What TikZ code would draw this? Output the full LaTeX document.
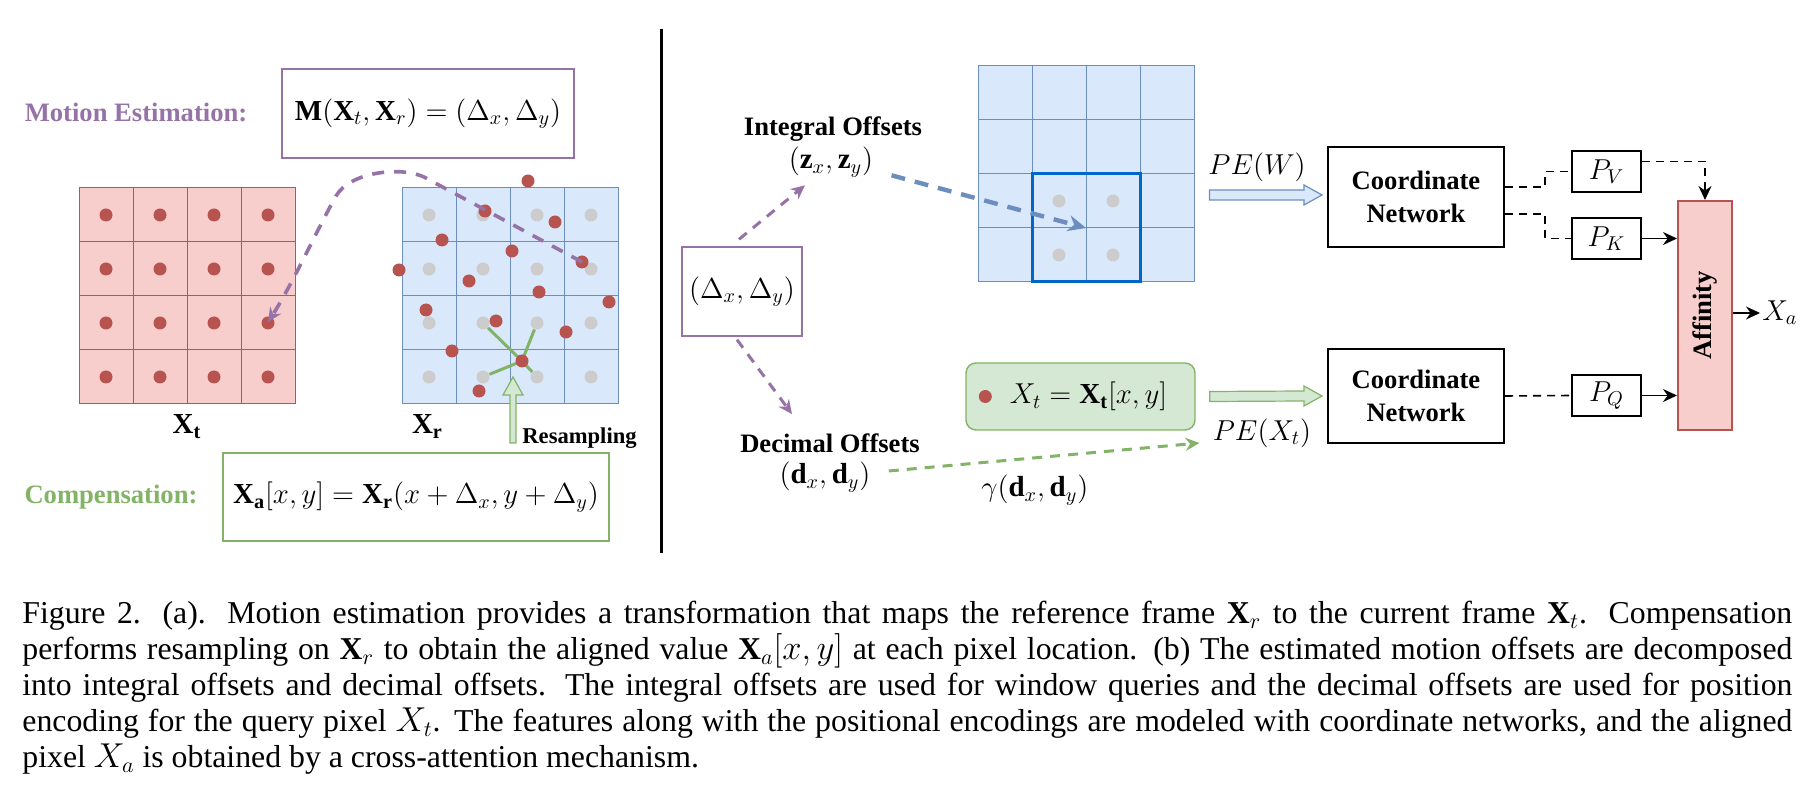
\documentclass[tikz,border=0pt]{standalone}
\usepackage{amsmath}
\usepackage{fontspec}
\setmainfont{Liberation Serif}
\usepackage{xcolor}
\usepackage{tikz}
\usetikzlibrary{arrows.meta,positioning,calc}

\definecolor{redfill}{HTML}{F8CECC}
\definecolor{redline}{HTML}{B85450}
\definecolor{bluefill}{HTML}{DAE8FC}
\definecolor{blueline}{HTML}{6C8EBF}
\definecolor{greenfill}{HTML}{D5E8D4}
\definecolor{greenline}{HTML}{82B366}
\definecolor{purpleline}{HTML}{9673A6}
\definecolor{winblue}{HTML}{0066CC}
\definecolor{dotgray}{HTML}{CCCCCC}

\begin{document}
\begin{tikzpicture}[x=0.5pt,y=-0.5pt,>={Stealth[length=7pt,width=6.5pt]},
  every node/.style={font=\fontsize{13.3}{16.5}\selectfont,align=center,inner sep=1pt},
  lbl/.style={font=\fontsize{13.3}{16.5}\selectfont\bfseries},
  mth/.style={font=\fontsize{14.5}{17}\selectfont},
  box/.style={draw,line width=1pt,inner sep=0pt},
  pbox/.style={draw=purpleline,line width=0.7pt,inner sep=0pt,minimum height=44.5pt},
  redcell/.style={draw=redline,fill=redfill,line width=0.5pt},
  bluecell/.style={draw=blueline,fill=bluefill,line width=0.5pt},
  reddot/.style={fill=redline},
  graydot/.style={fill=dotgray},
  pdash/.style={purpleline,line width=1.5pt,dash pattern=on 5pt off 4pt,->},
  bdash/.style={blueline,line width=2.2pt,dash pattern=on 7pt off 5pt,->,>={Stealth[length=9pt,width=8pt]}},
  gdash/.style={greenline,line width=1.5pt,dash pattern=on 5pt off 4pt,->},
  kdash/.style={line width=0.8pt,dash pattern=on 4pt off 3pt}]
\useasboundingbox (0,0) rectangle (1810,807);

\foreach \i in {0,...,3}
  \foreach \j in {0,...,3} {
    \draw[redcell] (79+54*\i,188+54*\j) rectangle ++(54,54);
    \fill[reddot] (106+54*\i,215+54*\j) circle (3.25pt);
    \draw[bluecell] (402+54*\i,188+54*\j) rectangle ++(54,54);
    \fill[graydot] (429+54*\i,215+54*\j) circle (3.25pt);
    \draw[bluecell] (978+54*\i,66+54*\j) rectangle ++(54,54);
  }
\node[minimum size=108pt,inner sep=0pt] (tgrid) at (187,296) {};
\node[minimum size=108pt,inner sep=0pt] (rgrid) at (510,296) {};
\node[minimum size=108pt,inner sep=0pt] (wgrid) at (1086,174) {};
\node[mth,below=4pt of tgrid] (xt) {$\mathbf{X_t}$};
\node[mth,below right=4pt and 4pt of rgrid.south west] (xr) {$\mathbf{X_r}$};

\coordinate (rs) at (522,361);
\foreach \a/\b in {483/323,537/323,483/377,537/377}
  \draw[greenline,line width=1.5pt,shorten >=3.5pt] (rs) -- (\a,\b);
\foreach \a/\b in {528/181,485/211,555/222,442/240,512/251,399/270,582/262,469/281,539/292,609/302,426/310,496/321,566/332,452/351,522/361,479/391}
  \fill[reddot] (\a,\b) circle (3.25pt);

\node[lbl,text=purpleline] (metxt) at (136,112) {Motion Estimation:};
\node[pbox,mth,minimum width=146pt] (mbox) at (428,113.5) {$\mathbf{M}(\mathbf{X}_t,\mathbf{X}_r)=(\Delta_x,\Delta_y)$};
\node[lbl,text=greenline] (ctxt) at (111,497) {Compensation:};
\node[draw=greenline,line width=0.7pt,inner sep=0pt,minimum width=193pt,minimum height=44pt,mth] (cbox) at (416,497) {$\mathbf{X_a}[x,y]=\mathbf{X_r}(x+\Delta_x,y+\Delta_y)$};

\coordinate (src) at (582,262);
\coordinate (dst) at (268,322);
\draw[purpleline,line width=1.8pt,dash pattern=on 6pt off 5pt,->] (src) -- (424,177) .. controls (400,166) and (350,172) .. (336,196) .. controls (318,228) and (292,285) .. (dst);

\coordinate (rtip) at (513,377);
\coordinate (rbase) at (513,443);
\draw[greenline,fill=greenfill,line width=0.6pt] ($(rbase)+(-3,0)$) -- ($(rtip)+(-3,18)$) -- ($(rtip)+(-10,18)$) -- (rtip) -- ($(rtip)+(10,18)$) -- ($(rtip)+(3,18)$) -- ($(rbase)+(3,0)$) -- cycle;
\node[lbl,font=\fontsize{11.3}{13}\selectfont\bfseries,anchor=west] (resamp) at (520,438) {Resampling};

\draw[line width=1.3pt] (661.5,29) -- (661.5,553);

\node[pbox,mth,minimum width=60pt] (dbox) at (742,291.5) {$(\Delta_x,\Delta_y)$};
\node[lbl] (intoff) at (833,129) {Integral Offsets};
\node[mth] (zxy) at (831,162) {$(\mathbf{z}_x,\mathbf{z}_y)$};
\node[lbl] (decoff) at (830,443) {Decimal Offsets};
\node[mth] (dxy) at (825,477) {$(\mathbf{d}_x,\mathbf{d}_y)$};
\node[draw=winblue,line width=1.5pt,minimum size=54pt,inner sep=0pt] (win) at (1086,228) {};
\foreach \a/\b in {1059/201,1113/201,1059/255,1113/255}
  \fill[graydot] (\a,\b) circle (3.25pt);

\draw[pdash] ([xshift=-1.5pt,yshift=3.5pt]dbox.north) -- ([xshift=-13pt,yshift=-3pt]zxy.south);
\draw[pdash] ([xshift=-2.5pt,yshift=-1.5pt]dbox.south) -- ([xshift=-19pt,yshift=8.5pt]decoff.north);
\draw[bdash] ([xshift=8pt,yshift=2pt]zxy.south east) -- (win.center);

\node[mth] (pew) at (1257,167) {$PE(W)$};
\node[mth] (pext) at (1262,433) {$PE(X_t)$};
\node[draw=greenline,fill=greenfill,rounded corners=5pt,line width=0.7pt,minimum width=114.5pt,minimum height=33.5pt,mth] (gbox) at (1080.5,396.5) {\hspace{8pt}$X_t=\mathbf{X_t}[x,y]$};
\fill[reddot] ([xshift=10pt]gbox.west) circle (3.25pt);
\draw[gdash] ([xshift=8pt,yshift=3pt]dxy.east) -- ([xshift=-5.5pt,yshift=-5pt]pext.west) node[pos=.47,below=7pt,mth,text=black] (gam) {$\gamma(\mathbf{d}_x,\mathbf{d}_y)$};

\node[box,lbl,minimum width=88pt,minimum height=50pt] (cn1) at (1416,197) {Coordinate\\Network};
\node[box,lbl,minimum width=88pt,minimum height=47pt] (cn2) at (1416,396) {Coordinate\\Network};
\node[box,mth,minimum width=34.5pt,minimum height=20.5pt] (pv) at (1606.5,171.5) {$P_V$};
\node[box,mth,minimum width=34.5pt,minimum height=20.5pt] (pk) at (1606.5,238.5) {$P_K$};
\node[box,mth,minimum width=34.5pt,minimum height=20.5pt] (pq) at (1606.5,395.5) {$P_Q$};
\node[draw=redline,fill=redfill,line width=1pt,inner sep=0pt,minimum width=27pt,minimum height=114.5pt,lbl] (aff) at (1705,315.5) {\rotatebox{90}{Affinity}};
\node[mth,anchor=west] (xa) at (1760,313) {$X_a$};

\coordinate (wa) at ($(wgrid.east |- cn1.west)+(15,-2)$);
\coordinate (wb) at ($(cn1.west)+(-5,-2)$);
\draw[blueline,fill=bluefill,line width=0.6pt] ($(wa)+(0,-5)$) -- ($(wb)+(-18,-5)$) -- ($(wb)+(-18,-10)$) -- (wb) -- ($(wb)+(-18,10)$) -- ($(wb)+(-18,5)$) -- ($(wa)+(0,5)$) -- cycle;
\coordinate (ga) at ($(gbox.east)+(14,0)$);
\coordinate (gb) at ($(cn2.west)+(-5,0)$);
\draw[greenline,fill=greenfill,line width=0.6pt] ($(ga)+(0,-5)$) -- ($(gb)+(-18,-5)$) -- ($(gb)+(-18,-10)$) -- (gb) -- ($(gb)+(-18,10)$) -- ($(gb)+(-18,5)$) -- ($(ga)+(0,5)$) -- cycle;

\draw[kdash] ([yshift=5pt]cn1.east) -- ++(40,0) |- (pv.west);
\draw[kdash] ([yshift=-8.5pt]cn1.east) -- ++(40,0) |- (pk.west);
\draw[kdash,->] ([yshift=5pt]pv.east) -| (aff.north);
\draw[kdash] (cn2.east) -- (pq.west);
\draw[->,line width=0.8pt] (pk.east) -- (pk.east -| aff.west);
\draw[->,line width=0.8pt] (pq.east) -- (pq.east -| aff.west);
\draw[->,line width=0.8pt] (aff.east |- xa.west) -- (xa.west);

\node[anchor=base west,text width=885pt,align=justify,inner sep=0pt,font=\fontsize{15.9}{18}\selectfont] (cap) at (22,623) {Figure 2. (a). Motion estimation provides a transformation that maps the reference frame $\mathbf{X}_r$ to the current frame $\mathbf{X}_t$. Compensation\linebreak
performs resampling on $\mathbf{X}_r$ to obtain the aligned value $\mathbf{X}_a[x,y]$ at each pixel location. (b) The estimated motion offsets are decomposed\linebreak
into integral offsets and decimal offsets. The integral offsets are used for window queries and the decimal offsets are used for position\linebreak
encoding for the query pixel $X_t$. The features along with the positional encodings are modeled with coordinate networks, and the aligned\linebreak
pixel $X_a$ is obtained by a cross-attention mechanism.};
\end{tikzpicture}
\end{document}
